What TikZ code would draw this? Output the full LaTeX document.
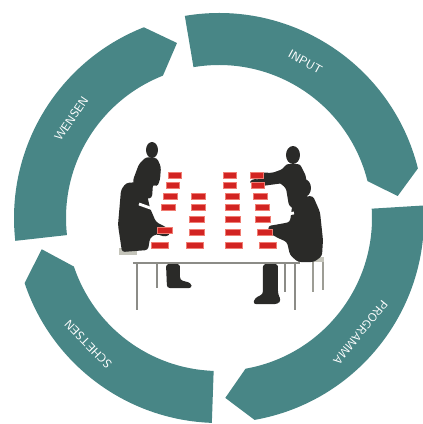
\documentclass[tikz,border=0pt]{standalone}
\usepackage{amsmath}
\usetikzlibrary{calc}

\definecolor{ringteal}{RGB}{72,134,134}
\definecolor{silhouette}{RGB}{42,42,40}
\definecolor{cardred}{RGB}{210,36,34}
\definecolor{cardedge}{RGB}{240,125,115}
\definecolor{tablegray}{RGB}{140,140,135}
\definecolor{chairgray}{RGB}{196,196,186}

\tikzset{
	ring/.style={fill=ringteal},
	ringlabel/.style={text=white,font=\sffamily\fontsize{8.5}{9}\selectfont,inner sep=0pt},
	person/.style={fill=silhouette,rounded corners=2pt},
	card/.style={fill=cardred,draw=cardedge,line width=0.6pt},
	tableline/.style={draw=tablegray,line width=1.6pt},
	chairline/.style={draw=chairgray!80!black,line width=1.2pt},
}

% ring piece: #1 start angle, #2 corner angle, #3 tip angle (clockwise)
\newcommand{\ringseg}[3]{%
	\fill[ring] (#1:205) arc[start angle=#1,end angle=#2,radius=205]
		-- (#3:180) -- (#2:153) arc[start angle=#2,end angle=#1,radius=153] -- cycle;}

\begin{document}
\begin{tikzpicture}[x=0.025cm,y=-0.025cm]
	\useasboundingbox (0,0) rectangle (423,424);

	% the four arrows of the cycle
	\begin{scope}[shift={(219,218)},yscale=-1]
		\ringseg{186.4}{111.5}{103.5}
		\ringseg{99.6}{14}{7}
		\ringseg{3.5}{-80}{-88}
		\ringseg{-92}{-161.5}{-170}
		\node[ringlabel,rotate=56] (wensen) at (146:178) {WENSEN};
		\node[ringlabel,rotate=-29] (input) at (61:178) {INPUT};
		\node[ringlabel,rotate=-129] (programma) at (-39:182) {PROGRAMMA};
		\node[ringlabel,rotate=134] (schetsen) at (224:182) {SCHETSEN};
	\end{scope}

	% table
	\draw[tableline] (133,263) -- (300,263);
	\draw[tableline] (137,263) -- (137,310) (157,263) -- (157,288)
		(285,263) -- (285,292) (295,263) -- (295,310);

	% chairs
	\fill[chairgray] (119,248) rectangle (137,255);
	\fill[chairgray] (298,257) rectangle (324,262);
	\draw[chairline] (313,262) -- (313,292) (323,262) -- (323,290);

	% people on the left
	\fill[person] (152,150) ellipse[x radius=6,y radius=8];
	\fill[person] (146,157) -- (157,158) -- (161,167) -- (160,180) -- (157,187) -- (153,184)
		-- (152,198) -- (135,200) -- (133,180) -- (139,164) -- cycle;
	\fill[person] (121,190) -- (126,183) -- (138,182) -- (146,190) -- (150,208) -- (156,222)
		-- (166,227) -- (171,233) -- (166,237) -- (156,234) -- (150,238) -- (148,250)
		-- (122,252) -- (118,225) -- cycle;
	\fill[person] (166,264) -- (180,264) -- (180,280) -- (191,283) -- (192,288) -- (167,288) -- cycle;
	\draw[white,line width=2pt] (139,204) -- (153,209);

	% people on the right
	\fill[person] (293,155) ellipse[x radius=7,y radius=9];
	\fill[person] (286,164) -- (300,164) -- (306,176) -- (307,200) -- (300,212) -- (289,206)
		-- (286,188) -- (276,180) -- (262,181) -- (253,178) -- (256,172) -- (272,173)
		-- (283,169) -- cycle;
	\fill[person] (284,183) -- (262,186) -- (249,183) -- (252,179) -- (270,180) -- (284,178) -- cycle;
	\fill[person] (304,188) ellipse[x radius=7,y radius=9];
	\fill[person] (296,197) -- (313,196) -- (320,212) -- (323,240) -- (322,256) -- (314,262)
		-- (298,262) -- (290,255) -- (287,242) -- (278,238) -- (269,233) -- (268,226)
		-- (280,224) -- (290,222) -- (292,207) -- cycle;
	\fill[person] (263,264) -- (278,264) -- (278,294) -- (281,300) -- (278,304) -- (253,304)
		-- (255,298) -- (263,294) -- cycle;
	\draw[white,line width=2pt] (276,216) -- (294,213);

	% cards on the table
	\foreach \x/\y/\w in {175/175/13,173/185/13,170/196/14,168/207/14,165/230/15,160/245/17,
		198/196/14,198/207/14,197/219/15,197/232/15,195/245/17,
		230/175/13,230/185/13,232/196/14,232/207/14,233/219/15,233/232/15,234/245/17,
		257/175/13,258/185/13,260/196/14,262/207/14,263/219/15,265/232/15,268/245/17}
		\filldraw[card] (\x-\w/2,\y-3) rectangle (\x+\w/2,\y+3);
\end{tikzpicture}
\end{document}
